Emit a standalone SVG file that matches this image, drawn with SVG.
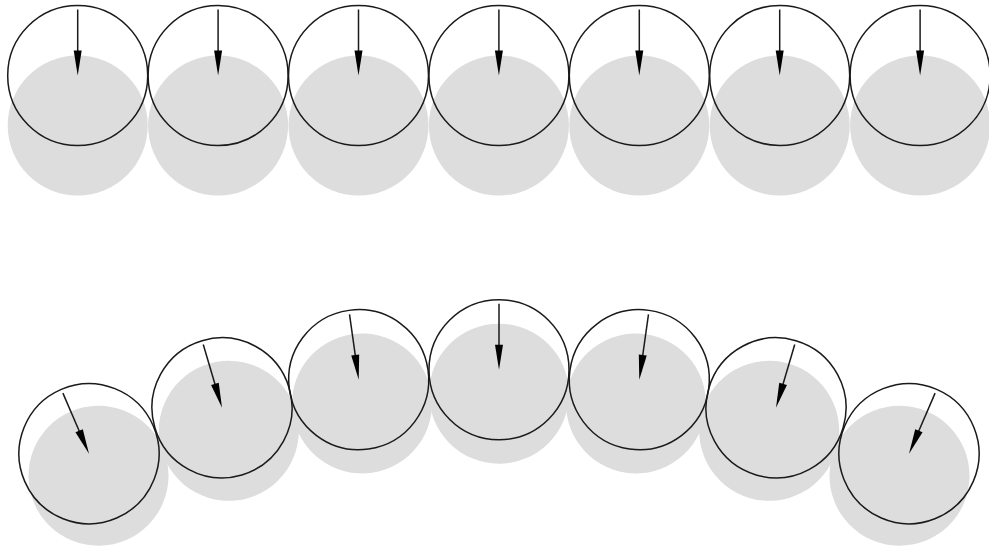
<svg xmlns="http://www.w3.org/2000/svg" width="989" height="548" viewBox="0 0 989 548">
<style>
.bg{fill:#ffffff}
.sh{fill:#dddddd}
.rim{fill:none;stroke:#1a1a1a;stroke-width:1.5}
.ar{stroke:#1a1a1a;stroke-width:1.5;fill:none}
.hd{fill:#000000}
</style>
<defs>
<circle id="shadow" r="70" class="sh"/>
<g id="wheel">
<circle r="70" class="rim"/>
<line x1="0" y1="-66" x2="0" y2="-22" class="ar"/>
<polygon points="0,0 -4,-25 4,-25" class="hd"/>
</g>
</defs>
<rect width="989" height="548" class="bg"/>
<g id="shadows">
<use href="#shadow" transform="translate(77.7,125.5)"/>
<use href="#shadow" transform="translate(218.1,125.5)"/>
<use href="#shadow" transform="translate(358.5,125.5)"/>
<use href="#shadow" transform="translate(498.9,125.5)"/>
<use href="#shadow" transform="translate(639.3,125.5)"/>
<use href="#shadow" transform="translate(779.7,125.5)"/>
<use href="#shadow" transform="translate(920.1,125.5)"/>
<use href="#shadow" transform="translate(89,453.7) rotate(-23.3) translate(0,24)"/>
<use href="#shadow" transform="translate(222,407.8) rotate(-16.5) translate(0,24)"/>
<use href="#shadow" transform="translate(358.7,379.7) rotate(-8) translate(0,24)"/>
<use href="#shadow" transform="translate(499,369.7) translate(0,24)"/>
<use href="#shadow" transform="translate(639.3,379.7) rotate(8) translate(0,24)"/>
<use href="#shadow" transform="translate(776,407.8) rotate(16.5) translate(0,24)"/>
<use href="#shadow" transform="translate(909,453.7) rotate(23.3) translate(0,24)"/>
</g>
<g id="t1" transform="translate(77.7,75.5)"><use href="#wheel"/></g>
<g id="t2" transform="translate(218.1,75.5)"><use href="#wheel"/></g>
<g id="t3" transform="translate(358.5,75.5)"><use href="#wheel"/></g>
<g id="t4" transform="translate(498.9,75.5)"><use href="#wheel"/></g>
<g id="t5" transform="translate(639.3,75.5)"><use href="#wheel"/></g>
<g id="t6" transform="translate(779.7,75.5)"><use href="#wheel"/></g>
<g id="t7" transform="translate(920.1,75.5)"><use href="#wheel"/></g>
<g id="b1" transform="translate(89,453.7) rotate(-23.3)"><use href="#wheel"/></g>
<g id="b2" transform="translate(222,407.8) rotate(-16.5)"><use href="#wheel"/></g>
<g id="b3" transform="translate(358.7,379.7) rotate(-8)"><use href="#wheel"/></g>
<g id="b4" transform="translate(499,369.7)"><use href="#wheel"/></g>
<g id="b5" transform="translate(639.3,379.7) rotate(8)"><use href="#wheel"/></g>
<g id="b6" transform="translate(776,407.8) rotate(16.5)"><use href="#wheel"/></g>
<g id="b7" transform="translate(909,453.7) rotate(23.3)"><use href="#wheel"/></g>
<g id="connectors"/>
</svg>
